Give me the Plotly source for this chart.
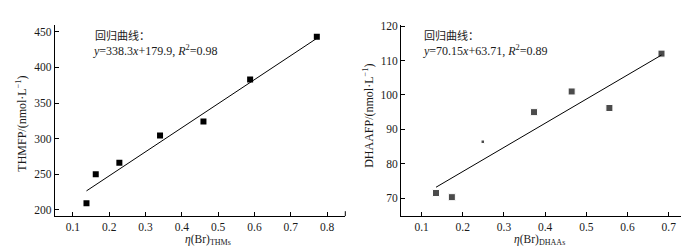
import plotly.graph_objects as go

# Left panel: THMFP vs eta(Br)THMs
thm_x = [0.1375, 0.163, 0.228, 0.340, 0.4595, 0.588, 0.7716]
thm_y = [208.9, 249.8, 266.0, 304.3, 324.1, 383.0, 443.0]
thm_slope, thm_intercept = 338.3, 179.9

# Right panel: DHAAFP vs eta(Br)DHAAs
dhaa_x = [0.135, 0.1735, 0.2486, 0.373, 0.4644, 0.556, 0.6825]
dhaa_y = [71.5, 70.3, 86.4, 95.0, 101.0, 96.2, 112.0]
dhaa_slope, dhaa_intercept = 70.15, 63.71

thm_ticks_x = [0.1, 0.2, 0.3, 0.4, 0.5, 0.6, 0.7, 0.8]
thm_ticks_y = [200, 250, 300, 350, 400, 450]
dhaa_ticks_x = [0.1, 0.2, 0.3, 0.4, 0.5, 0.6, 0.7]
dhaa_ticks_y = [70, 80, 90, 100, 110, 120]

SERIF = "Liberation Serif"
CJK = "Noto Sans CJK SC"
TXT = "#1a1a1a"

fig = go.Figure()

fig.add_trace(go.Scatter(x=thm_x, y=thm_y, mode="markers",
                         marker=dict(symbol="square", size=6, color="black"),
                         xaxis="x", yaxis="y", showlegend=False))
lx = [min(thm_x), max(thm_x)]
fig.add_trace(go.Scatter(x=lx, y=[thm_slope * v + thm_intercept for v in lx], mode="lines",
                         line=dict(color="black", width=1), xaxis="x", yaxis="y", showlegend=False))

dsizes = [7, 7, 3.5, 7, 7, 7, 7]
fig.add_trace(go.Scatter(x=dhaa_x, y=dhaa_y, mode="markers",
                         marker=dict(symbol="square", size=dsizes, color="black"),
                         xaxis="x2", yaxis="y2", showlegend=False))
rx = [min(dhaa_x), max(dhaa_x)]
fig.add_trace(go.Scatter(x=rx, y=[dhaa_slope * v + dhaa_intercept for v in rx], mode="lines",
                         line=dict(color="black", width=1), xaxis="x2", yaxis="y2", showlegend=False))

axis_common = dict(showgrid=False, zeroline=False, showline=True, linecolor="black", linewidth=1,
                   ticks="inside", ticklen=4, tickwidth=1, tickcolor="black",
                   tickfont=dict(family=SERIF, size=11.5, color=TXT))

ydom = [1 - 207.3 / 246, 1 - 12.3 / 246]
fig.update_layout(
    width=689, height=246,
    margin=dict(l=0, r=0, t=0, b=0),
    plot_bgcolor="white", paper_bgcolor="white",
    xaxis=dict(domain=[46.7 / 689, 337.3 / 689], range=[0.05, 0.85], tickvals=thm_ticks_x,
               ticktext=[f"{v:.1f}" for v in thm_ticks_x], anchor="y", **axis_common),
    yaxis=dict(domain=ydom, range=[191, 459.6], tickvals=thm_ticks_y, anchor="x", **axis_common),
    xaxis2=dict(domain=[393 / 689, 681.3 / 689], range=[0.05, 0.75], tickvals=dhaa_ticks_x,
                ticktext=[f"{v:.1f}" for v in dhaa_ticks_x], anchor="y2", **axis_common),
    yaxis2=dict(domain=ydom, range=[64.8, 120.3], tickvals=dhaa_ticks_y, anchor="x2", **axis_common),
)

# end caps on the x axes
for xr in ["x domain", "x2 domain"]:
    fig.add_shape(type="line", xref=xr, yref="paper", x0=1, x1=1,
                  y0=ydom[0], y1=ydom[0] + 5 / 246, line=dict(color="black", width=1))

def ann(x, y, text, font, size=12, angle=0, xanchor="left"):
    fig.add_annotation(x=x / 689, y=1 - y / 246, xref="paper", yref="paper", text=text,
                       showarrow=False, xanchor=xanchor, yanchor="middle", textangle=angle,
                       font=dict(family=font, size=size, color=TXT))

ann(85, 22, "回归曲线：", CJK, 11)
ann(83, 38.5, "<i>y</i>=338.3<i>x</i>+179.9, <i>R</i><sup>2</sup>=0.98", SERIF, 12)
ann(414, 22, "回归曲线：", CJK, 11)
ann(413, 38.5, "<i>y</i>=70.15<i>x</i>+63.71, <i>R</i><sup>2</sup>=0.89", SERIF, 12)

ann(200, 231.5, "<i>η</i>(Br)<sub>THMs</sub>", SERIF, 11.5, xanchor="center")
ann(531, 231.5, "<i>η</i>(Br)<sub>DHAAs</sub>", SERIF, 11.5, xanchor="center")
ann(14, 113, "THMFP/(nmol·L<sup>−1</sup>)", SERIF, 12, angle=-90, xanchor="center")
ann(361, 105, "DHAAFP/(nmol·L<sup>−1</sup>)", SERIF, 12, angle=-90, xanchor="center")

fig.write_html("out.html")
